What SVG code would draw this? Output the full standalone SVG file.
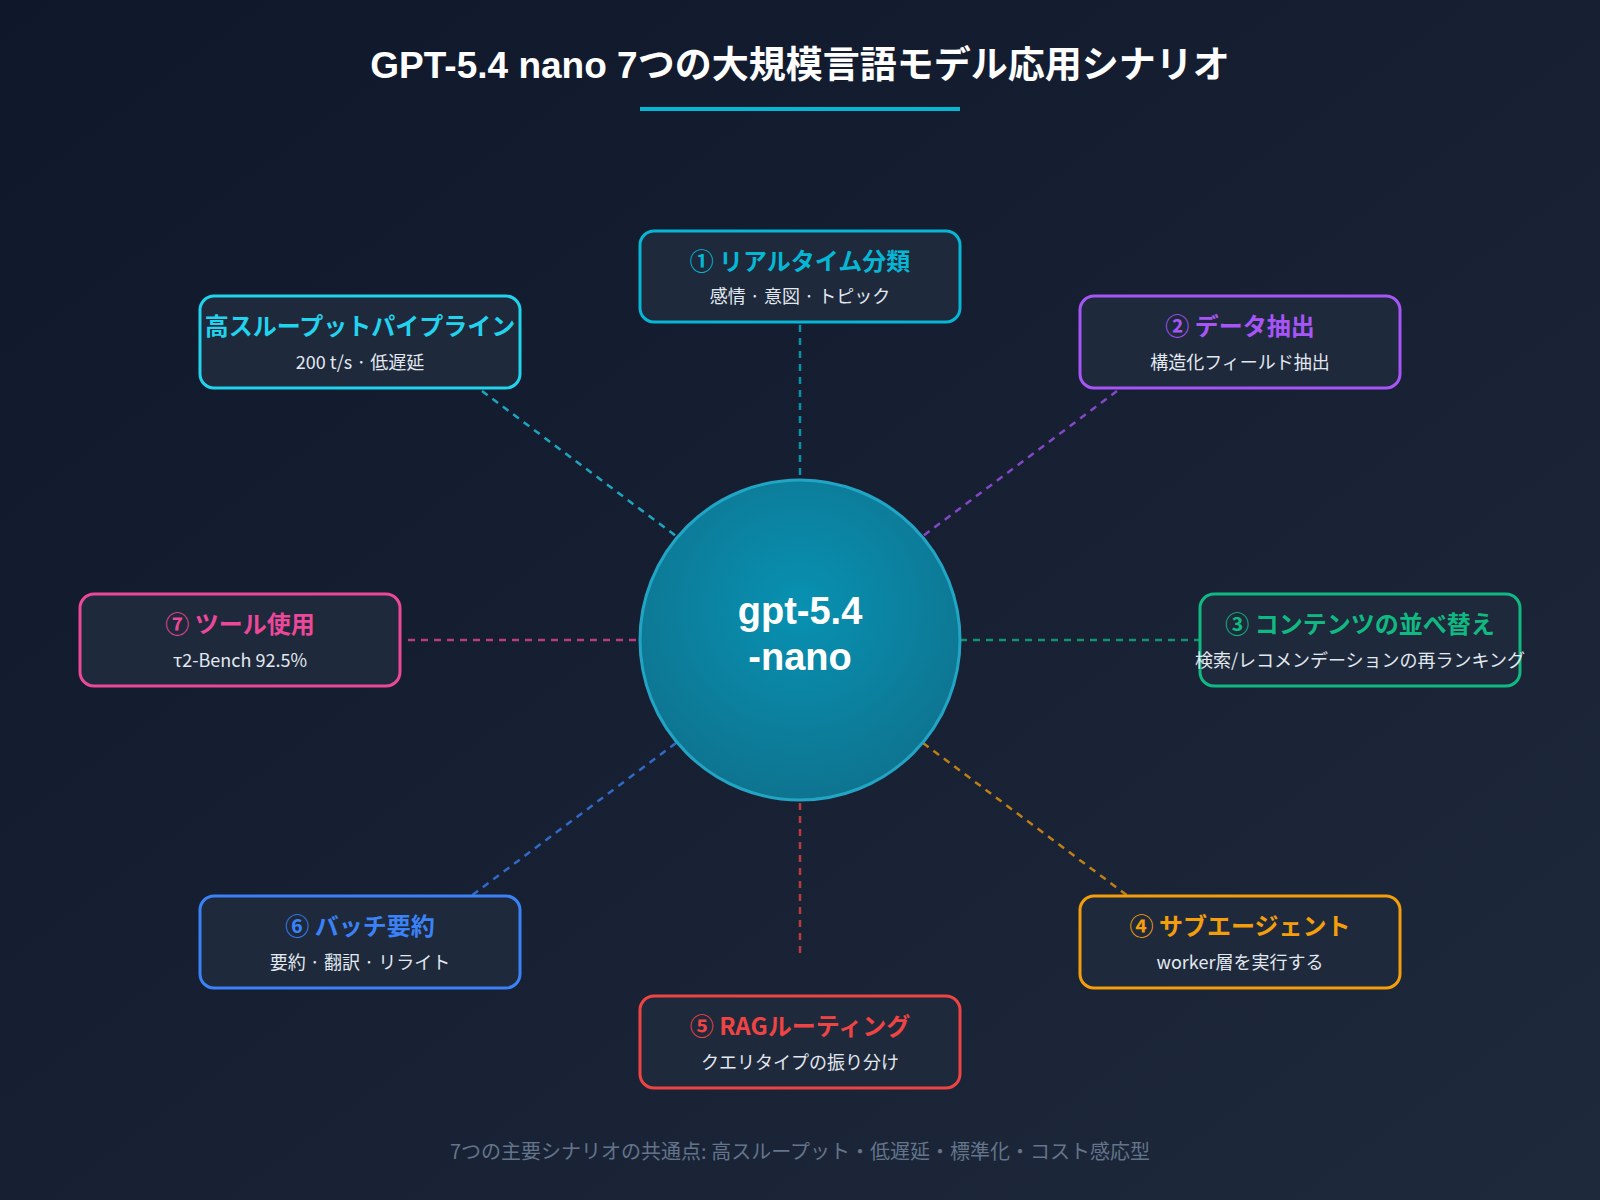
<svg xmlns="http://www.w3.org/2000/svg" width="1600" height="1200" viewBox="0 0 1600 1200">
<defs>
<linearGradient id="bg" x1="0" y1="0" x2="1" y2="1"><stop offset="0" stop-color="#0f172a"/><stop offset="1" stop-color="#1e293b"/></linearGradient>
<radialGradient id="cg" cx="0.5" cy="0.4" r="0.6"><stop offset="0" stop-color="#0891b2"/><stop offset="1" stop-color="#0e7490"/></radialGradient>
<style>
text{font-family:"Noto Sans CJK JP","Liberation Sans",sans-serif}
.box{fill:#1e293b;stroke-width:3}
.t{font-size:24px;font-weight:bold;text-anchor:middle}
.s{font-size:18px;fill:#e2e8f0;text-anchor:middle}
.c line{stroke-width:2.5;stroke-dasharray:7 6;opacity:0.75}
</style>
</defs>
<rect width="1600" height="1200" fill="url(#bg)"/>
<text x="800" y="78" font-size="37" font-weight="bold" fill="#ffffff" text-anchor="middle" style="font-family:'Liberation Sans','Noto Sans CJK JP',sans-serif">GPT-5.4 nano 7つの大規模言語モデル応用シナリオ</text>
<rect x="640" y="107" width="320" height="4" fill="#06b6d4"/>
<g class="c" id="connectors">
<line x1="800" y1="325" x2="800" y2="478" stroke="#06b6d4"/>
<line x1="482" y1="391" x2="676" y2="536" stroke="#22d3ee"/>
<line x1="1117" y1="391" x2="923" y2="536" stroke="#a855f7"/>
<line x1="408" y1="640" x2="640" y2="640" stroke="#ec4899"/>
<line x1="960" y1="640" x2="1200" y2="640" stroke="#10b981"/>
<line x1="676" y1="743" x2="471" y2="896" stroke="#3b82f6"/>
<line x1="923" y1="743" x2="1128" y2="896" stroke="#f59e0b"/>
<line x1="800" y1="803" x2="800" y2="959" stroke="#ef4444"/>
</g>
<g id="center">
<circle cx="800" cy="640" r="160" fill="url(#cg)" stroke="#22a5c4" stroke-width="3"/>
<text x="800" y="624" font-size="38" font-weight="bold" fill="#fff" text-anchor="middle" style="font-family:'Liberation Sans',sans-serif">gpt-5.4</text>
<text x="800" y="670" font-size="38" font-weight="bold" fill="#fff" text-anchor="middle" style="font-family:'Liberation Sans',sans-serif">-nano</text>
</g>
<g id="n1"><rect class="box" x="640" y="231" width="320" height="91" rx="14" stroke="#06b6d4"/><text class="t" x="800" y="270" fill="#06b6d4">① リアルタイム分類</text><text class="s" x="800" y="303">感情 · 意図 · トピック</text></g>
<g id="n0"><rect class="box" x="200" y="296" width="320" height="92" rx="14" stroke="#22d3ee"/><text class="t" x="360" y="335" fill="#22d3ee">高スループットパイプライン</text><text class="s" x="360" y="369">200 t/s · 低遅延</text></g>
<g id="n2"><rect class="box" x="1080" y="296" width="320" height="92" rx="14" stroke="#a855f7"/><text class="t" x="1240" y="335" fill="#a855f7">② データ抽出</text><text class="s" x="1240" y="369">構造化フィールド抽出</text></g>
<g id="n7"><rect class="box" x="80" y="594" width="320" height="92" rx="14" stroke="#ec4899"/><text class="t" x="240" y="633" fill="#ec4899">⑦ ツール使用</text><text class="s" x="240" y="667">τ2-Bench 92.5%</text></g>
<g id="n3"><rect class="box" x="1200" y="594" width="320" height="92" rx="14" stroke="#10b981"/><text class="t" x="1360" y="633" fill="#10b981">③ コンテンツの並べ替え</text><text class="s" x="1360" y="667">検索/レコメンデーションの再ランキング</text></g>
<g id="n6"><rect class="box" x="200" y="896" width="320" height="92" rx="14" stroke="#3b82f6"/><text class="t" x="360" y="935" fill="#3b82f6">⑥ バッチ要約</text><text class="s" x="360" y="969">要約 · 翻訳 · リライト</text></g>
<g id="n4"><rect class="box" x="1080" y="896" width="320" height="92" rx="14" stroke="#f59e0b"/><text class="t" x="1240" y="935" fill="#f59e0b">④ サブエージェント</text><text class="s" x="1240" y="969">worker層を実行する</text></g>
<g id="n5"><rect class="box" x="640" y="996" width="320" height="92" rx="14" stroke="#ef4444"/><text class="t" x="800" y="1035" fill="#ef4444">⑤ RAGルーティング</text><text class="s" x="800" y="1069">クエリタイプの振り分け</text></g>
<text x="800" y="1159" font-size="20" fill="#64748b" text-anchor="middle">7つの主要シナリオの共通点:  高スループット・低遅延・標準化・コスト感応型</text>
</svg>
